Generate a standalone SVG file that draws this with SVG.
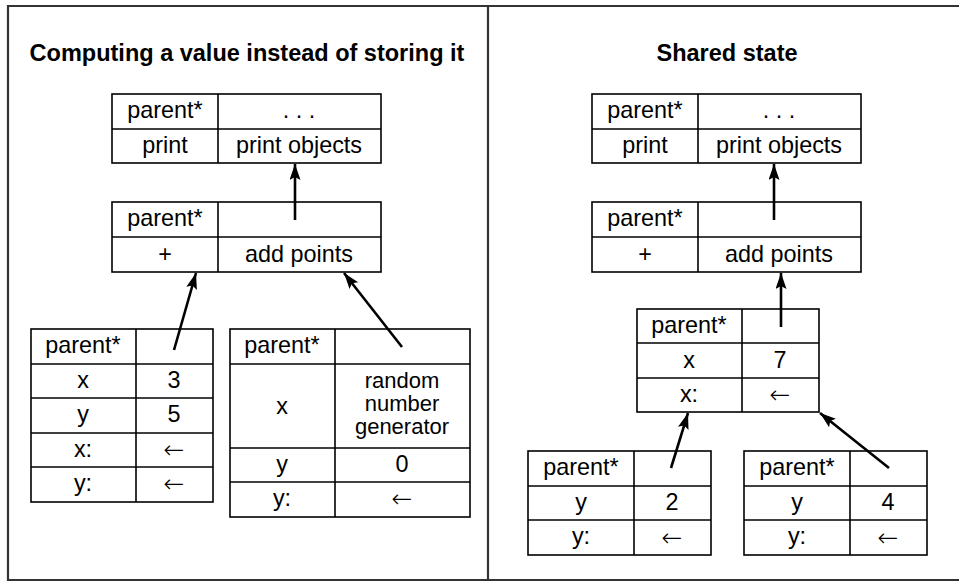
<svg xmlns="http://www.w3.org/2000/svg" width="959" height="582" viewBox="0 0 959 582">
<style>
.frame{fill:none;stroke:#333;stroke-width:2.2}
.tb{fill:#fff;stroke:#000;stroke-width:1.6}
.ln{stroke:#000;stroke-width:1.6}
.t{font-family:"Liberation Sans",Arial,Helvetica,sans-serif;font-size:23.4px;fill:#000;text-anchor:middle}
.rg{font-size:22px}
.ar{font-family:"DejaVu Sans","Liberation Sans",sans-serif;font-size:25px;font-weight:300;fill:#000;text-anchor:middle}
.title{font-family:"Liberation Sans",Arial,Helvetica,sans-serif;font-size:23.5px;font-weight:bold;fill:#000;text-anchor:middle}
.con{stroke:#000;stroke-width:2.6;fill:none;marker-end:url(#ah)}
</style>
<defs>
<marker id="ah" markerUnits="userSpaceOnUse" markerWidth="17" markerHeight="12" refX="16" refY="5.5" orient="auto">
<path d="M0,0 L16,5.5 L0,11 L3,5.5 Z" fill="#000"/>
</marker>
</defs>
<rect width="959" height="582" fill="#fff"/>
<g id="frame">
<path class="frame" d="M962,6 H8 V580 H962"/>
<line class="frame" x1="488" y1="6" x2="488" y2="580"/>
</g>
<text class="title" x="247" y="61">Computing a value instead of storing it</text>
<text class="title" x="727" y="61">Shared state</text>

<g id="L1">
<rect class="tb" x="112" y="94" width="269" height="69"/>
<line class="ln" x1="218" y1="94" x2="218" y2="163"/>
<line class="ln" x1="112" y1="129" x2="381" y2="129"/>
<text class="t" x="165" y="118">parent*</text>
<text class="t" x="299" y="118">. . .</text>
<text class="t" x="165" y="153">print</text>
<text class="t" x="299" y="153">print objects</text>
</g>
<g id="L2">
<rect class="tb" x="112" y="202" width="269" height="70"/>
<line class="ln" x1="218" y1="202" x2="218" y2="272"/>
<line class="ln" x1="112" y1="237" x2="381" y2="237"/>
<text class="t" x="165" y="226">parent*</text>
<text class="t" x="165" y="262">+</text>
<text class="t" x="299" y="262">add points</text>
</g>
<g id="L3">
<rect class="tb" x="31" y="329" width="182" height="173"/>
<line class="ln" x1="136" y1="329" x2="136" y2="502"/>
<line class="ln" x1="31" y1="364" x2="213" y2="364"/>
<line class="ln" x1="31" y1="398" x2="213" y2="398"/>
<line class="ln" x1="31" y1="433" x2="213" y2="433"/>
<line class="ln" x1="31" y1="467" x2="213" y2="467"/>
<text class="t" x="83" y="353">parent*</text>
<text class="t" x="83" y="388">x</text>
<text class="t" x="174" y="388">3</text>
<text class="t" x="83" y="422">y</text>
<text class="t" x="174" y="422">5</text>
<text class="t" x="83" y="457">x:</text>
<text class="ar" x="174" y="458">←</text>
<text class="t" x="83" y="491">y:</text>
<text class="ar" x="174" y="492">←</text>
</g>
<g id="L4">
<rect class="tb" x="230" y="329" width="240" height="188"/>
<line class="ln" x1="335" y1="329" x2="335" y2="517"/>
<line class="ln" x1="230" y1="364" x2="470" y2="364"/>
<line class="ln" x1="230" y1="448" x2="470" y2="448"/>
<line class="ln" x1="230" y1="482" x2="470" y2="482"/>
<text class="t" x="282" y="353">parent*</text>
<text class="t" x="282" y="414">x</text>
<text class="t rg" x="402" y="388">random</text>
<text class="t rg" x="402" y="411">number</text>
<text class="t rg" x="402" y="434">generator</text>
<text class="t" x="282" y="472">y</text>
<text class="t" x="402" y="472">0</text>
<text class="t" x="282" y="506">y:</text>
<text class="ar" x="402" y="507">←</text>
</g>

<g id="R1">
<rect class="tb" x="592" y="94" width="269" height="69"/>
<line class="ln" x1="698" y1="94" x2="698" y2="163"/>
<line class="ln" x1="592" y1="129" x2="861" y2="129"/>
<text class="t" x="645" y="118">parent*</text>
<text class="t" x="779" y="118">. . .</text>
<text class="t" x="645" y="153">print</text>
<text class="t" x="779" y="153">print objects</text>
</g>
<g id="R2">
<rect class="tb" x="592" y="202" width="269" height="70"/>
<line class="ln" x1="698" y1="202" x2="698" y2="272"/>
<line class="ln" x1="592" y1="237" x2="861" y2="237"/>
<text class="t" x="645" y="226">parent*</text>
<text class="t" x="645" y="262">+</text>
<text class="t" x="779" y="262">add points</text>
</g>
<g id="R3">
<rect class="tb" x="637" y="309" width="182" height="103"/>
<line class="ln" x1="742" y1="309" x2="742" y2="412"/>
<line class="ln" x1="637" y1="343" x2="819" y2="343"/>
<line class="ln" x1="637" y1="378" x2="819" y2="378"/>
<text class="t" x="689" y="333">parent*</text>
<text class="t" x="689" y="368">x</text>
<text class="t" x="780" y="368">7</text>
<text class="t" x="689" y="402">x:</text>
<text class="ar" x="780" y="403">←</text>
</g>
<g id="R4">
<rect class="tb" x="528" y="451" width="183" height="104"/>
<line class="ln" x1="634" y1="451" x2="634" y2="555"/>
<line class="ln" x1="528" y1="486" x2="711" y2="486"/>
<line class="ln" x1="528" y1="520" x2="711" y2="520"/>
<text class="t" x="581" y="475">parent*</text>
<text class="t" x="581" y="510">y</text>
<text class="t" x="672" y="510">2</text>
<text class="t" x="581" y="544">y:</text>
<text class="ar" x="672" y="546">←</text>
</g>
<g id="R5">
<rect class="tb" x="744" y="451" width="183" height="104"/>
<line class="ln" x1="850" y1="451" x2="850" y2="555"/>
<line class="ln" x1="744" y1="486" x2="927" y2="486"/>
<line class="ln" x1="744" y1="520" x2="927" y2="520"/>
<text class="t" x="797" y="475">parent*</text>
<text class="t" x="797" y="510">y</text>
<text class="t" x="888" y="510">4</text>
<text class="t" x="797" y="544">y:</text>
<text class="ar" x="888" y="546">←</text>
</g>

<g id="connectors">
<line class="con" x1="295" y1="220" x2="295" y2="164"/>
<line class="con" x1="174" y1="350" x2="196" y2="273"/>
<line class="con" x1="402" y1="347" x2="344" y2="273"/>
<line class="con" x1="774" y1="220" x2="774" y2="164"/>
<line class="con" x1="781" y1="327" x2="781" y2="273"/>
<line class="con" x1="671" y1="468" x2="688" y2="413"/>
<line class="con" x1="889" y1="468" x2="820" y2="413"/>
</g>
</svg>
